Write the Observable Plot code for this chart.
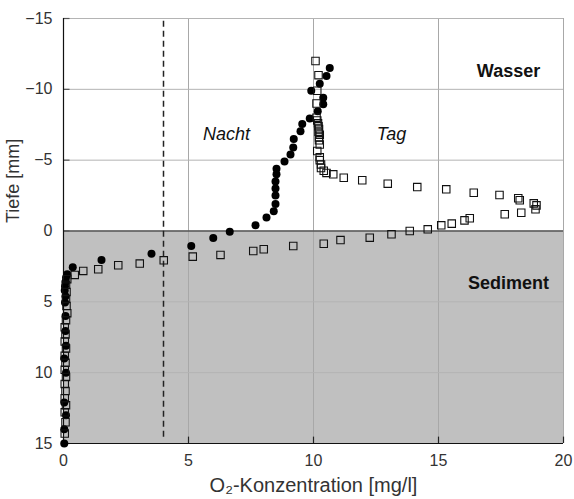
<!DOCTYPE html>
<html>
<head>
<meta charset="utf-8">
<script src="https://cdn.jsdelivr.net/npm/d3@7"></script>
<script src="https://cdn.jsdelivr.net/npm/@observablehq/plot@0.6"></script>
<style>
  html, body { margin: 0; padding: 0; background: #fff; }
</style>
</head>
<body>
<div id="chart"></div>
<script>
// Nacht (night) profile: filled circles
const nachtX = [10.65,10.52,10.25,9.91,10.39,10.39,10.17,9.85,9.55,9.48,9.21,9.19,9.08,8.84,8.52,8.52,8.48,8.48,8.48,8.48,8.41,8.12,7.68,6.65,5.99,5.11,3.52,1.52,0.37,0.15,0.10,0.08,0.06,0.05,0.08,0.06,0.08,0.08,0.10,0.03,0.10,0.03,0.10,0.03,0.03];
const nachtY = [-11.5,-10.95,-10.4,-9.9,-9.4,-8.95,-8.45,-7.95,-7.55,-7.05,-6.5,-5.9,-5.4,-4.9,-4.4,-4.0,-3.5,-3.0,-2.5,-1.9,-1.4,-0.95,-0.4,0.05,0.5,1.05,1.6,2.05,2.55,3.05,3.3,3.6,3.9,4.2,4.6,5.05,6.0,7.05,8.1,9.0,10.0,12.1,13.0,14.0,15.0];

// Tag (day) profile: open squares
const tagX = [10.08,10.2,10.15,10.12,10.12,10.15,10.18,10.2,10.22,10.2,10.25,10.22,10.22,10.25,10.15,10.25,10.25,10.3,10.3,10.41,10.52,10.79,11.21,11.95,12.97,14.15,15.31,16.41,17.44,18.19,18.25,18.81,18.92,18.88,18.31,17.65,16.25,16.04,15.53,15.11,14.57,13.85,13.12,12.25,11.08,10.41,9.19,8.01,7.59,6.28,5.17,4.01,3.05,2.19,1.39,0.79,0.45,0.15,0.10,0.12,0.10,0.12,0.15,0.10,0.05,0.08,0.05,0.10,0.05,0.08,0.05,0.10,0.05,0.08,0.05,0.10,0.05,0.08,0.05];
const tagY = [-12,-11,-9.9,-9.0,-8.0,-7.8,-7.6,-7.4,-7.2,-7.0,-6.8,-6.6,-6.4,-6.1,-5.65,-5.2,-5.0,-4.7,-4.45,-4.25,-4.1,-4.0,-3.76,-3.58,-3.34,-3.1,-2.94,-2.7,-2.54,-2.31,-2.17,-1.95,-1.81,-1.53,-1.29,-1.18,-0.9,-0.75,-0.52,-0.4,-0.12,0.0,0.23,0.47,0.64,0.9,1.06,1.29,1.41,1.69,1.81,2.07,2.3,2.42,2.7,2.82,3.1,3.4,3.8,4.3,4.8,5.3,5.8,6.3,6.8,7.3,7.8,8.3,8.8,9.3,9.8,10.3,10.8,11.3,11.8,12.3,12.8,13.5,14.3];

const xTicks = [0, 5, 10, 15, 20];
const yTicks = [-15, -10, -5, 0, 5, 10, 15];
const gridX = [5, 10, 15, 20];
const gridY = [-15, -10, -5, 5, 10];
const grenzeO2 = [4];           // dashed reference line
const sediment = [{x1: 0, x2: 20, y1: 0, y2: 15}];
const zoneLabels = ["Wasser", "Sediment"];
const zoneLabelX = [17.8, 17.8];
const zoneLabelY = [-11.3, 3.7];
const seriesLabels = ["Nacht", "Tag"];
const seriesLabelX = [6.52, 13.12];
const seriesLabelY = [-6.8, -6.8];
const xTitle = "O₂-Konzentration [mg/l]";
const yTitle = "Tiefe [mm]";

const nacht = nachtX.map((x, i) => ({x, y: nachtY[i]}));
const tag = tagX.map((x, i) => ({x, y: tagY[i]}));
const zones = zoneLabels.map((t, i) => ({t, x: zoneLabelX[i], y: zoneLabelY[i]}));
const series = seriesLabels.map((t, i) => ({t, x: seriesLabelX[i], y: seriesLabelY[i]}));

const chart = Plot.plot({
  width: 574,
  height: 499,
  marginLeft: 63,
  marginRight: 11,
  marginTop: 18,
  marginBottom: 56,
  x: {domain: [0, 20]},
  y: {domain: [-15, 15], reverse: true},
  style: {fontFamily: "Liberation Sans, Arial, sans-serif", fontSize: "16px", background: "#fff", color: "#222"},
  marks: [
    Plot.rect(sediment, {x1: "x1", x2: "x2", y1: "y1", y2: "y2", fill: "#c0c0c0"}),
    Plot.ruleX(gridX, {stroke: "#a8a8a8", strokeWidth: 1}),
    Plot.ruleY(gridY, {stroke: "#b4b4b4", strokeWidth: 1}),
    Plot.ruleY([0], {stroke: "#555", strokeWidth: 1.5}),
    Plot.ruleX(grenzeO2, {y1: -14.8, y2: 14.8, stroke: "#222", strokeWidth: 1.5, strokeDasharray: "6,4"}),
    Plot.ruleY(yTicks, {x1: 0, x2: 0.26, stroke: "#555", strokeWidth: 1.2}),
    Plot.ruleX(gridX, {y1: 15, y2: 14.55, stroke: "#222", strokeWidth: 1.2}),
    Plot.ruleX([0], {stroke: "#111", strokeWidth: 1.2}),
    Plot.ruleY([15], {stroke: "#111", strokeWidth: 1.2}),
    Plot.dot(nacht, {x: "x", y: "y", r: 4, fill: "#000", stroke: "none"}),
    Plot.dot(tag, {x: "x", y: "y", r: 4.2, symbol: "square", stroke: "#111", strokeWidth: 1.1, fill: "none"}),
    Plot.text(zones, {x: "x", y: "y", text: "t", fontWeight: "bold", fontSize: 18, fill: "#111"}),
    Plot.text(series, {x: "x", y: "y", text: "t", fontStyle: "italic", fontSize: 18, fill: "#111"}),
    Plot.axisX(xTicks, {tickSize: 0, tickPadding: 11, label: null, fill: "#333", fontSize: 16}),
    Plot.axisY(yTicks, {tickSize: 0, tickPadding: 11, label: null, fill: "#333", fontSize: 16}),
    Plot.text([xTitle], {frameAnchor: "bottom", dy: 48, fontSize: 20, fill: "#333"}),
    Plot.text([yTitle], {frameAnchor: "left", dx: -50, dy: -8, rotate: -90, fontSize: 18, fill: "#333"})
  ]
});
document.getElementById("chart").appendChild(chart);
</script>
</body>
</html>
